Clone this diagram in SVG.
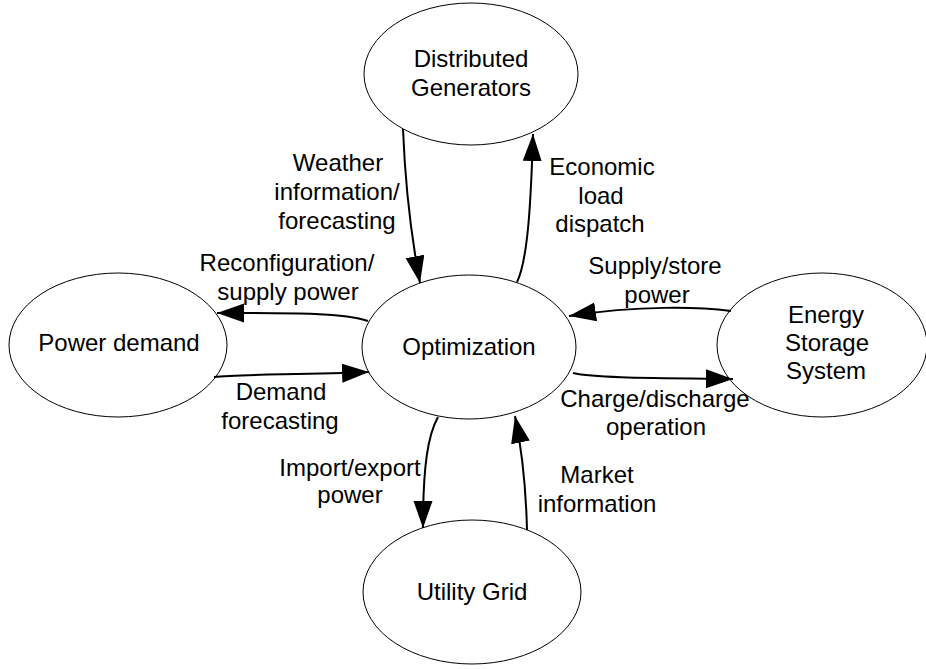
<svg xmlns="http://www.w3.org/2000/svg" width="926" height="669" viewBox="0 0 926 669">
  <style>
    .node ellipse { fill: #ffffff; stroke: #000000; stroke-width: 1; }
    text { font-family: "Liberation Sans", Arial, sans-serif; font-size: 24px; fill: #000000; text-anchor: middle; }
    .edge { fill: none; stroke: #000000; stroke-width: 2; marker-end: url(#arrow); }
  </style>
  <defs>
    <marker id="arrow" markerUnits="userSpaceOnUse" markerWidth="28" markerHeight="20" refX="27" refY="9.5" orient="auto">
      <path d="M0,0 L27,9.5 L0,19 z" fill="#000000"/>
    </marker>
  </defs>
  <rect width="926" height="669" fill="#ffffff"/>

  <!-- nodes -->
  <g id="distributed-generators" class="node">
    <ellipse cx="471" cy="74" rx="107" ry="71"/>
    <text x="471" y="67">Distributed</text>
    <text x="471" y="96">Generators</text>
  </g>
  <g id="optimization" class="node">
    <ellipse cx="469" cy="347" rx="107" ry="72"/>
    <text x="469" y="355">Optimization</text>
  </g>
  <g id="power-demand" class="node">
    <ellipse cx="118" cy="345" rx="109" ry="72"/>
    <text x="119" y="351">Power demand</text>
  </g>
  <g id="energy-storage-system" class="node">
    <ellipse cx="822" cy="345" rx="105" ry="72"/>
    <text x="826" y="323">Energy</text>
    <text x="827" y="351">Storage</text>
    <text x="826" y="379">System</text>
  </g>
  <g id="utility-grid" class="node">
    <ellipse cx="472" cy="592" rx="109" ry="72"/>
    <text x="472" y="600">Utility Grid</text>
  </g>

  <!-- connectors -->
  <g id="connectors">
    <path class="edge" d="M403,129 C405,180 410,230 420,283"/>
    <path class="edge" d="M517,282 C528,260 531,200 533,134"/>
    <path class="edge" d="M368,321 C345,313 300,313 217,313"/>
    <path class="edge" d="M214,377 C240,374 300,375 369,372"/>
    <path class="edge" d="M731,311 C700,307 640,305 569,316"/>
    <path class="edge" d="M573,373 C595,378 650,378 733,379"/>
    <path class="edge" d="M438,417 C428,435 423,465 423,528"/>
    <path class="edge" d="M527,530 C526,490 522,450 515,416"/>
  </g>

  <!-- connector labels -->
  <g id="labels">
    <text x="338" y="171">Weather</text>
    <text x="337" y="200">information/</text>
    <text x="337" y="229">forecasting</text>

    <text x="602" y="175">Economic</text>
    <text x="601" y="204">load</text>
    <text x="600" y="232">dispatch</text>

    <text x="287" y="271">Reconfiguration/</text>
    <text x="288" y="300">supply power</text>

    <text x="281" y="400">Demand</text>
    <text x="280" y="429">forecasting</text>

    <text x="655" y="274">Supply/store</text>
    <text x="657" y="303">power</text>

    <text x="655" y="407">Charge/discharge</text>
    <text x="656" y="435">operation</text>

    <text x="350" y="476">Import/export</text>
    <text x="350" y="503">power</text>

    <text x="597" y="483">Market</text>
    <text x="597" y="512">information</text>
  </g>
</svg>
